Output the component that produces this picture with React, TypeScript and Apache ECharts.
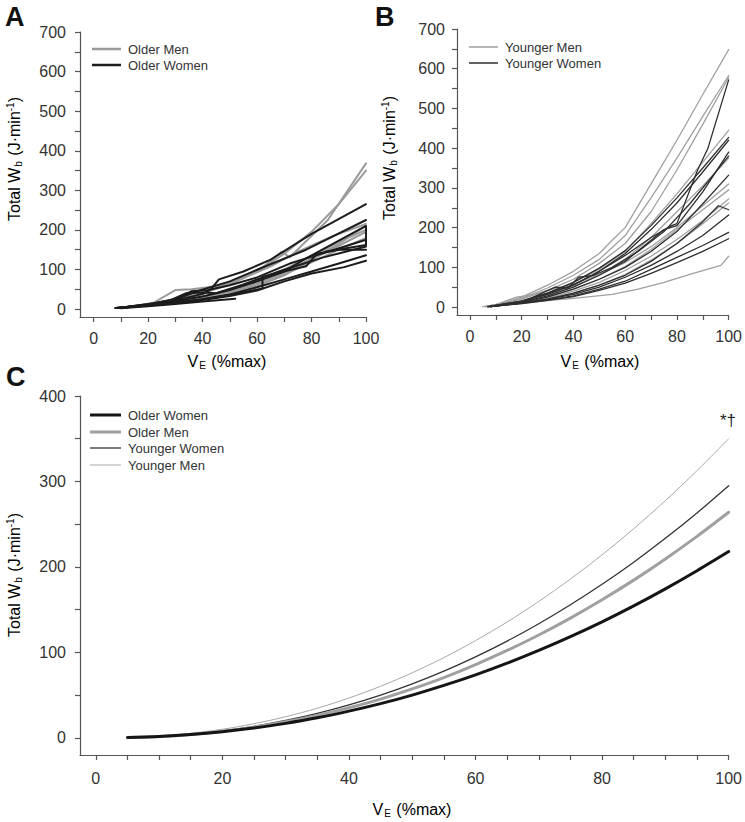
import React, { useEffect, useRef } from 'react';
import * as echarts from 'echarts';

const FONT = '"Liberation Sans", Arial, Helvetica, sans-serif';

// ---- tick values ----
const xTicksAB = [0, 10, 20, 30, 40, 50, 60, 70, 80, 90, 100];
const xLabelsAB = [0, 20, 40, 60, 80, 100];
const yTicksAB = [0, 50, 100, 150, 200, 250, 300, 350, 400, 450, 500, 550, 600, 650, 700];
const yLabelsAB = [0, 100, 200, 300, 400, 500, 600, 700];
const xTicksC = [0, 5, 10, 15, 20, 25, 30, 35, 40, 45, 50, 55, 60, 65, 70, 75, 80, 85, 90, 95, 100];
const xLabelsC = [0, 20, 40, 60, 80, 100];
const yTicksC = [0, 50, 100, 150, 200, 250, 300, 350, 400];
const yLabelsC = [0, 100, 200, 300, 400];

// ---- Panel A: individual older subjects [VE %max, Wb J/min] ----
const olderMen: number[][][] = [
  [[9, 3], [20, 12], [30, 24], [40, 40], [50, 62], [60, 95], [70, 140], [80, 195], [90, 265], [100, 350]],
  [[10, 3], [20, 12], [30, 26], [40, 42], [50, 65], [62, 105], [69, 145], [72, 131], [86, 225], [100, 368]],
  [[10, 3], [22, 16], [30, 48], [36, 50], [45, 58], [55, 78], [65, 108], [75, 145], [88, 185], [100, 215]],
  [[8, 3], [20, 10], [30, 20], [40, 32], [50, 48], [60, 70], [70, 100], [80, 135], [90, 170], [100, 200]],
  [[10, 3], [20, 10], [30, 18], [40, 28], [50, 42], [60, 60], [70, 88], [80, 118], [90, 150], [100, 180]],
  [[10, 3], [20, 9], [30, 16], [40, 26], [50, 38], [60, 58], [70, 85], [80, 125], [90, 160], [100, 195]],
  [[9, 3], [20, 10], [30, 19], [40, 30], [50, 45], [60, 65], [70, 92], [80, 128], [90, 165], [100, 210]],
];
const olderWomen: number[][][] = [
  [[8, 3], [15, 7], [20, 11], [30, 22], [40, 38], [43, 50], [46, 75], [55, 95], [65, 125], [80, 190], [100, 265]],
  [[9, 3], [20, 12], [30, 24], [38, 45], [50, 70], [62, 105], [78, 150], [100, 225]],
  [[9, 3], [20, 10], [30, 20], [40, 32], [50, 48], [60, 70], [70, 95], [78, 128], [100, 210], [100, 162], [85, 145]],
  [[10, 2], [20, 7], [30, 13], [40, 19], [52, 26]],
  [[8, 3], [20, 9], [30, 16], [40, 25], [52, 38], [62, 52], [62, 82], [78, 108], [82, 140], [90, 150], [100, 150]],
  [[9, 3], [20, 9], [30, 15], [40, 23], [50, 33], [60, 47], [70, 70], [80, 90], [92, 106], [100, 122]],
  [[9, 3], [20, 9], [30, 16], [40, 25], [50, 37], [60, 55], [70, 75], [80, 95], [90, 115], [100, 136]],
  [[9, 3], [22, 14], [30, 25], [36, 45], [42, 48], [50, 60], [60, 80], [72, 115], [86, 145], [100, 175]],
  [[9, 3], [20, 11], [28, 22], [34, 40], [40, 42], [45, 40], [55, 62], [68, 95], [84, 130], [100, 158]],
];

// ---- Panel B: individual younger subjects ----
const youngerMen: number[][][] = [
  [[5, 1], [12, 8], [20, 25], [30, 55], [40, 90], [50, 135], [55, 168], [60, 200], [70, 310], [80, 420], [90, 535], [100, 648]],
  [[6, 1], [12, 8], [20, 22], [30, 48], [40, 80], [50, 120], [55, 150], [60, 180], [70, 275], [80, 375], [90, 480], [100, 583]],
  [[6, 1], [20, 20], [30, 42], [40, 70], [50, 110], [60, 160], [70, 240], [80, 345], [90, 460], [100, 578]],
  [[6, 1], [20, 16], [30, 35], [40, 62], [50, 95], [60, 140], [70, 210], [80, 285], [90, 365], [100, 445]],
  [[7, 1], [20, 15], [30, 30], [40, 52], [50, 80], [60, 120], [70, 175], [80, 240], [90, 305], [100, 375]],
  [[7, 1], [20, 13], [30, 26], [40, 45], [50, 70], [60, 102], [70, 145], [80, 195], [90, 245], [100, 295]],
  [[7, 1], [20, 12], [30, 22], [40, 40], [50, 62], [60, 92], [70, 128], [80, 170], [90, 218], [100, 272]],
  [[7, 1], [20, 11], [30, 20], [40, 35], [50, 55], [60, 82], [70, 118], [80, 160], [90, 210], [100, 262]],
  [[7, 1], [20, 9], [30, 16], [40, 22], [55, 32], [65, 45], [75, 62], [85, 82], [97, 105], [100, 128]],
  [[8, 1], [18, 25], [25, 32], [30, 42], [40, 58], [50, 82], [60, 112], [70, 152], [80, 200], [90, 255], [100, 310]],
];
const youngerWomen: number[][][] = [
  [[7, 1], [20, 15], [30, 35], [40, 55], [50, 90], [60, 130], [70, 175], [78, 205], [80, 210], [88, 345], [92, 400], [100, 572]],
  [[7, 1], [20, 15], [30, 35], [40, 62], [50, 98], [60, 142], [70, 205], [80, 275], [90, 350], [100, 427]],
  [[7, 1], [20, 14], [30, 32], [40, 56], [50, 90], [60, 135], [70, 195], [80, 262], [90, 340], [100, 420]],
  [[7, 1], [20, 12], [30, 28], [40, 50], [50, 80], [60, 115], [70, 168], [75, 195], [80, 205], [90, 290], [100, 390]],
  [[8, 1], [20, 12], [30, 25], [40, 45], [50, 70], [60, 100], [70, 140], [80, 190], [90, 260], [100, 332]],
  [[8, 1], [20, 10], [30, 20], [40, 35], [50, 55], [60, 80], [70, 115], [80, 160], [90, 215], [96, 255], [100, 245]],
  [[8, 1], [20, 10], [30, 20], [40, 32], [50, 50], [60, 75], [70, 105], [80, 140], [90, 180], [100, 232]],
  [[8, 1], [20, 10], [30, 18], [40, 28], [50, 45], [60, 65], [70, 95], [80, 125], [90, 155], [100, 188]],
  [[8, 1], [20, 9], [30, 17], [40, 26], [50, 42], [60, 60], [70, 85], [80, 112], [90, 140], [100, 172]],
  [[8, 1], [20, 12], [33, 50], [38, 48], [42, 75], [48, 80], [55, 100], [65, 140], [75, 190], [85, 260], [100, 380]],
];

// ---- Panel C: group mean fitted curves ----
const veC = [5, 10, 15, 20, 25, 30, 35, 40, 45, 50, 55, 60, 65, 70, 75, 80, 85, 90, 95, 100];
const olderWomenMean = [0.4, 1.7, 3.9, 7.2, 11.5, 17.0, 23.5, 31.3, 40.1, 50.1, 61.4, 73.8, 87.5, 102.4, 118.5, 135.8, 154.5, 174.4, 195.6, 218];
const olderMenMean = [0.4, 1.7, 4.1, 7.7, 12.6, 18.8, 26.3, 35.2, 45.4, 57.3, 70.6, 85.8, 102.3, 120.4, 140.2, 161.6, 184.6, 209.4, 235.8, 264];
const youngerWomenMean = [0.4, 1.8, 4.4, 8.3, 13.6, 20.4, 28.7, 38.6, 50.1, 63.3, 78.2, 94.9, 113.3, 133.6, 155.8, 179.7, 205.6, 233.5, 263.2, 295];
const youngerMenMean = [0.5, 2.2, 5.4, 10.1, 16.6, 24.8, 34.7, 46.6, 60.4, 76.2, 93.9, 113.8, 135.6, 159.7, 185.9, 214.2, 244.8, 277.6, 312.7, 350];

const AXIS_COLOR = '#555';
const LABEL_COLOR = '#333';

function xAxis(gridIndex: number, min: number, max: number, ticks: number[], labels: number[], margin: number) {
  return {
    type: 'value', gridIndex, min, max,
    axisLine: { show: true, onZero: false, lineStyle: { color: AXIS_COLOR, width: 1.2 } },
    axisTick: { show: true, length: 5, customValues: ticks, lineStyle: { color: AXIS_COLOR, width: 1.2 } },
    axisLabel: { customValues: labels, margin, fontSize: 16, color: LABEL_COLOR, fontFamily: FONT },
    splitLine: { show: false },
  };
}
function yAxis(gridIndex: number, min: number, max: number, ticks: number[], labels: number[], margin: number) {
  return {
    type: 'value', gridIndex, min, max,
    axisLine: { show: true, onZero: false, lineStyle: { color: AXIS_COLOR, width: 1.2 } },
    axisTick: { show: true, length: 5, customValues: ticks, lineStyle: { color: AXIS_COLOR, width: 1.2 } },
    axisLabel: { customValues: labels, margin, fontSize: 16, color: LABEL_COLOR, fontFamily: FONT },
    splitLine: { show: false },
  };
}

function lineSeries(name: string, data: number[][], axis: number, color: string, width: number, smooth = false) {
  return {
    type: 'line', name, data, xAxisIndex: axis, yAxisIndex: axis,
    showSymbol: false, symbol: 'none', smooth,
    lineStyle: { color, width, join: 'round', cap: 'round' },
    itemStyle: { color },
    emphasis: { disabled: true },
    silent: true,
  };
}

const GRAY_A = '#9a9a9a';
const BLACK_A = '#1c1c1c';
const GRAY_B = '#a0a0a0';
const BLACK_B = '#2e2e2e';

const xTitleRich = {
  n: { fontSize: 16, fontFamily: FONT, color: LABEL_COLOR, lineHeight: 18 },
  s: { fontSize: 10, fontFamily: FONT, color: LABEL_COLOR, lineHeight: 10, verticalAlign: 'bottom', padding: [0, 1, 0, 1] },
};
const yTitleRich = {
  n: { fontSize: 16, fontFamily: FONT, color: LABEL_COLOR, lineHeight: 18 },
  s: { fontSize: 10, fontFamily: FONT, color: LABEL_COLOR, lineHeight: 10, verticalAlign: 'bottom', padding: [0, 1, 0, 1] },
  p: { fontSize: 10, fontFamily: FONT, color: LABEL_COLOR, lineHeight: 10, verticalAlign: 'top' },
};

function xTitle(x: number, y: number) {
  return {
    type: 'text', x, y, silent: true,
    style: { text: '{n|V}{s|E}{n| (%max)}', rich: xTitleRich, align: 'center', verticalAlign: 'middle' },
  };
}
function yTitle(x: number, y: number) {
  return {
    type: 'text', x, y, rotation: Math.PI / 2, silent: true,
    style: { text: '{n|Total W}{s|b}{n| (J·min}{p|-1}{n|)}', rich: yTitleRich, align: 'center', verticalAlign: 'middle' },
  };
}
function legendItem(x1: number, x2: number, y: number, color: string, width: number, label: string, fontSize = 13) {
  return [
    { type: 'line', silent: true, shape: { x1, y1: y, x2, y2: y }, style: { stroke: color, lineWidth: width } },
    { type: 'text', silent: true, x: x2 + 7, y, style: { text: label, fontSize, fontFamily: FONT, fill: LABEL_COLOR, align: 'left', verticalAlign: 'middle' } },
  ];
}
function panelLetter(text: string, x: number, y: number) {
  return {
    type: 'text', x, y, silent: true,
    style: { text, fontSize: 27, fontWeight: 'bold', fontFamily: FONT, fill: '#111', align: 'left', verticalAlign: 'middle' },
  };
}

export default function App() {
  const ref = useRef<HTMLDivElement>(null);
  useEffect(() => {
    if (!ref.current) return;
    const chart = echarts.init(ref.current, null, { renderer: 'svg' });
    const series: any[] = [];
    olderMen.forEach((d) => series.push(lineSeries('Older Men', d, 0, GRAY_A, 2)));
    olderWomen.forEach((d) => series.push(lineSeries('Older Women', d, 0, BLACK_A, 2)));
    youngerMen.forEach((d) => series.push(lineSeries('Younger Men', d, 1, GRAY_B, 1.3)));
    youngerWomen.forEach((d) => series.push(lineSeries('Younger Women', d, 1, BLACK_B, 1.3)));
    const zip = (ys: number[]) => veC.map((x, i) => [x, ys[i]]);
    series.push(lineSeries('Younger Men', zip(youngerMenMean), 2, '#a8a8a8', 1, 0.3 as any));
    series.push(lineSeries('Younger Women', zip(youngerWomenMean), 2, '#333333', 1.3, 0.3 as any));
    series.push(lineSeries('Older Men', zip(olderMenMean), 2, '#a0a0a0', 3, 0.3 as any));
    series.push(lineSeries('Older Women', zip(olderWomenMean), 2, '#151515', 3, 0.3 as any));

    chart.setOption({
      animation: false,
      backgroundColor: '#ffffff',
      textStyle: { fontFamily: FONT },
      grid: [
        { left: 80, top: 32, width: 286, height: 285 },
        { left: 457, top: 29, width: 273, height: 286 },
        { left: 80, top: 396, width: 650, height: 359 },
      ],
      xAxis: [
        xAxis(0, -5, 100, xTicksAB, xLabelsAB, 13),
        xAxis(1, -5, 100, xTicksAB, xLabelsAB, 13),
        xAxis(2, -2.5, 100, xTicksC, xLabelsC, 15),
      ],
      yAxis: [
        yAxis(0, -20, 700, yTicksAB, yLabelsAB, 14),
        yAxis(1, -20, 700, yTicksAB, yLabelsAB, 12),
        yAxis(2, -20, 400, yTicksC, yLabelsC, 14),
      ],
      series,
      graphic: [
        panelLetter('A', 5, 17),
        panelLetter('B', 375, 17),
        panelLetter('C', 6, 377),
        xTitle(227, 361),
        xTitle(600, 361),
        xTitle(412, 809),
        yTitle(14, 159),
        yTitle(389, 158),
        yTitle(14, 575),
        ...legendItem(92, 121, 49, GRAY_A, 2.5, 'Older Men'),
        ...legendItem(92, 121, 65, BLACK_A, 2.5, 'Older Women'),
        ...legendItem(469, 498, 47, GRAY_B, 1.5, 'Younger Men'),
        ...legendItem(469, 498, 63, BLACK_B, 1.5, 'Younger Women'),
        ...legendItem(90, 121, 415, '#151515', 3, 'Older Women'),
        ...legendItem(90, 121, 432, '#a0a0a0', 3, 'Older Men'),
        ...legendItem(90, 121, 448, '#333333', 1.3, 'Younger Women'),
        ...legendItem(90, 121, 465, '#a8a8a8', 1, 'Younger Men'),
        {
          type: 'text', x: 728, y: 420, silent: true,
          style: { text: '*†', fontSize: 17, fontFamily: FONT, fill: '#222', align: 'center', verticalAlign: 'middle' },
        },
      ],
    });
    return () => chart.dispose();
  }, []);
  return (
    <div
      ref={ref}
      style={{ position: 'absolute', left: 0, top: 0, width: 745, height: 822, background: '#fff' }}
    />
  );
}
